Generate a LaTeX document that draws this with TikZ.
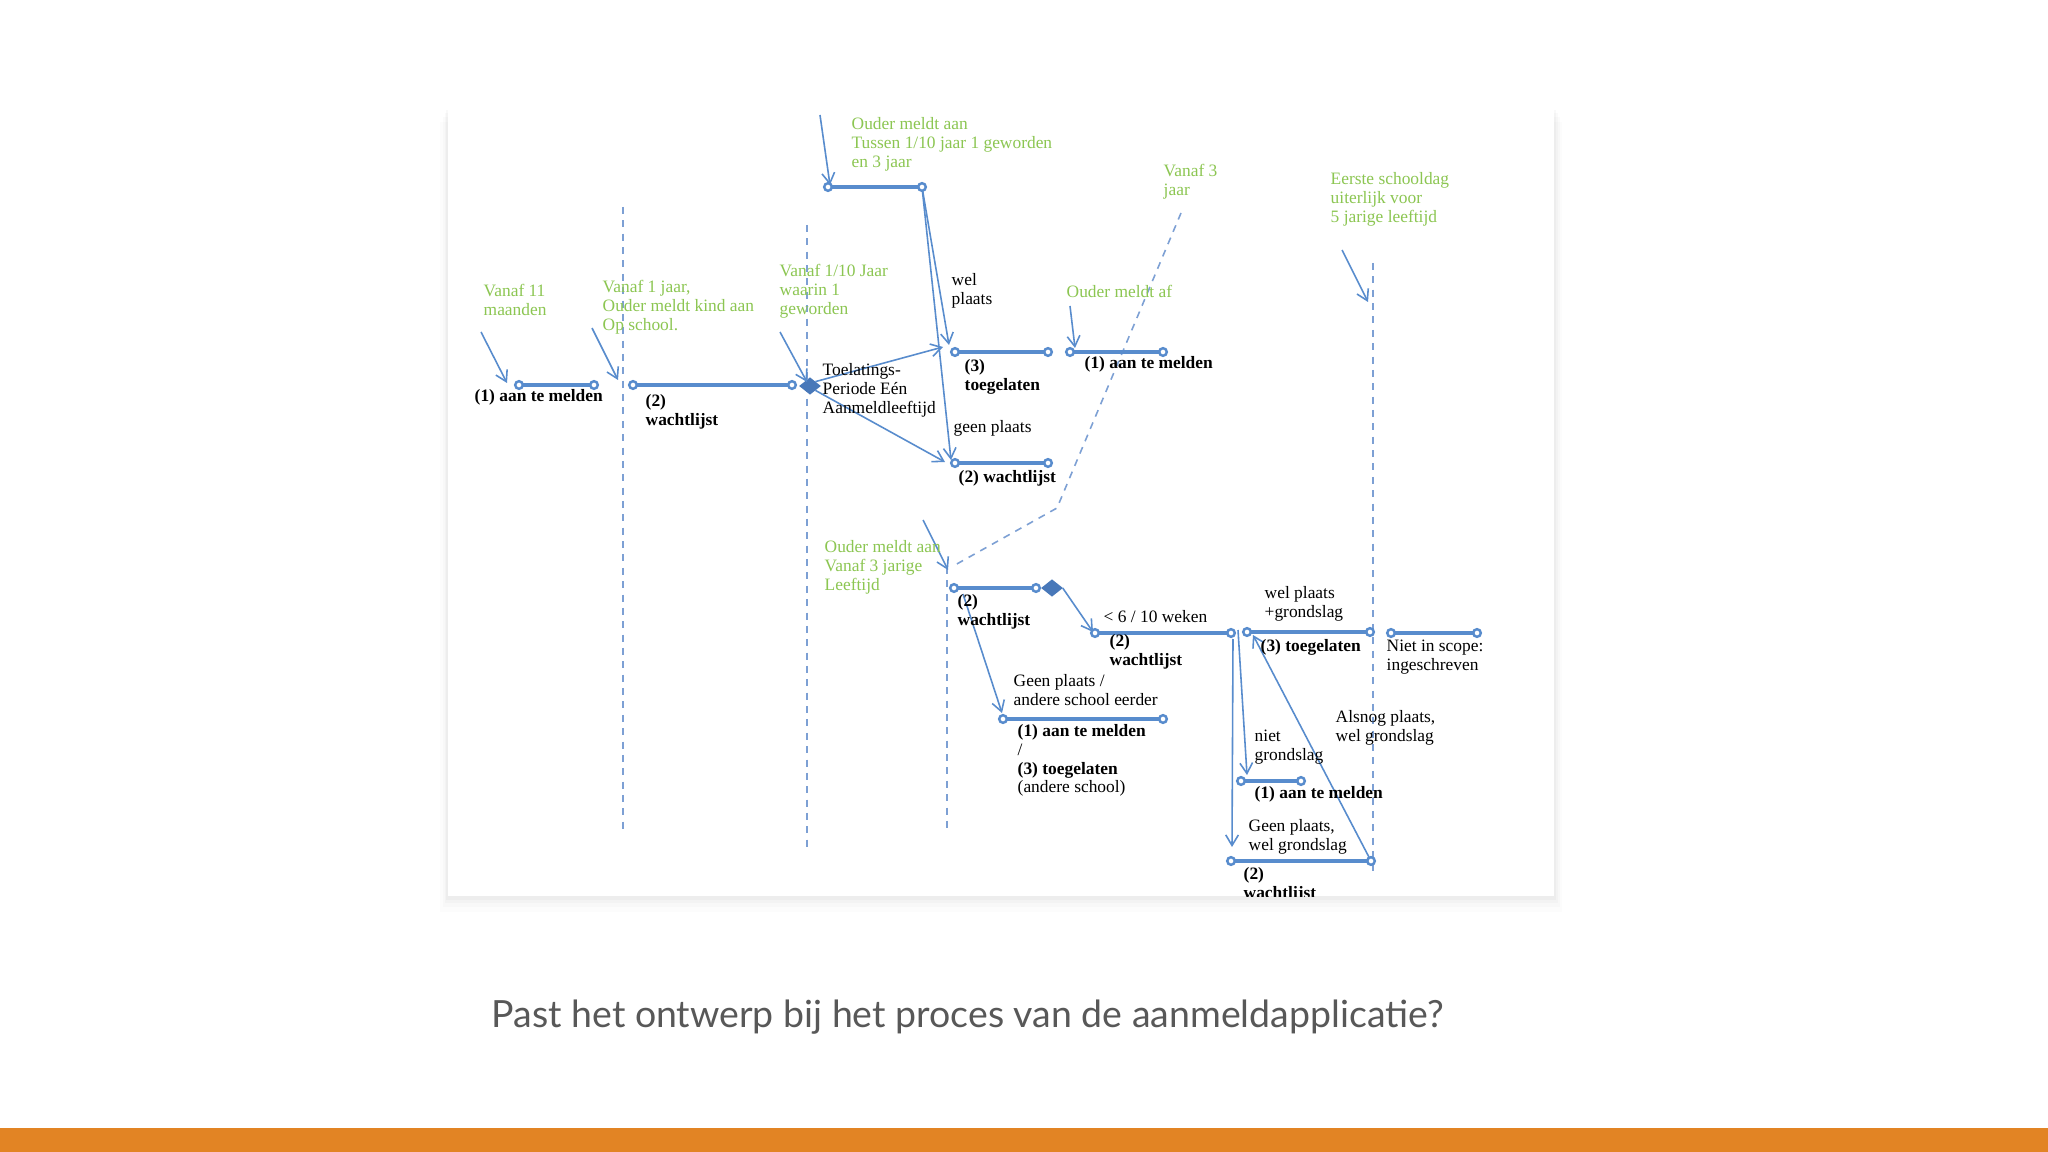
\documentclass[tikz,border=0pt]{standalone}
\usepackage{fontspec}
\setmainfont{Liberation Serif}
\newfontfamily\slidefont{Lato}
\usetikzlibrary{arrows.meta,shapes.geometric}
\definecolor{lineblue}{RGB}{88,140,205}
\definecolor{dashblue}{RGB}{125,160,212}
\definecolor{diamondblue}{RGB}{72,120,185}
\definecolor{notegreen}{RGB}{140,198,82}
\definecolor{barorange}{RGB}{226,132,36}
\definecolor{captiongray}{RGB}{88,88,88}
\tikzset{
  seg/.style={draw=lineblue, line width=0.9pt},
  endpt/.style={draw=lineblue, fill=white, line width=0.7pt},
  flow/.style={draw=lineblue, line width=0.45pt, -{Straight Barb[length=3pt,width=3.6pt]}},
  border/.style={draw=dashblue, line width=0.45pt, dash pattern=on 2pt off 1.8pt},
  gate/.style={diamond, fill=diamondblue, draw=diamondblue, inner sep=0pt, minimum width=0.2cm, minimum height=0.16cm},
  note/.style={text=notegreen, font=\fontsize{4.95}{5.3}\selectfont, align=left, inner sep=0pt, anchor=base west},
  lbl/.style={text=black, font=\fontsize{4.95}{5.3}\selectfont, align=left, inner sep=0pt, anchor=base west},
  state/.style={lbl, font=\fontsize{4.95}{5.3}\selectfont\bfseries}
}
\begin{document}
\begin{tikzpicture}[x=0.01cm, y=-0.01cm]
\useasboundingbox (0,0) rectangle (2048,1152);
\fill[white] (0,0) rectangle (2048,1152);
\fill[barorange] (0,1128) rectangle (2048,1152);
\foreach \d/\o in {16/0.012, 11/0.016, 7/0.02, 4/0.025}
  \fill[black, opacity=\o] (448-\d/2,106+\d) rectangle (1554+\d/2,896+\d);
\fill[white] (448,106) rectangle (1554,896);
\node[font=\slidefont\fontsize{10.65}{12}\selectfont, text=captiongray, anchor=base west, inner sep=0pt] (caption) at (491,1027) {Past het ontwerp bij het proces van de aanmeldapplicatie?};

\begin{scope}
\clip (448,106) rectangle (1554,896);
\draw[border] (623,207) -- (623,829);
\draw[border] (807,225) -- (807,849);
\draw[border] (947,567) -- (947,831);
\draw[border] (1373,263) -- (1373,872);
\draw[border] (1181,213) -- (1057,508) -- (955,565);

\coordinate (s1a) at (519,385); \coordinate (s1b) at (594,385);
\coordinate (s2a) at (633,385); \coordinate (s2b) at (792,385);
\coordinate (s3a) at (828,187); \coordinate (s3b) at (922,187);
\coordinate (s4a) at (955,352); \coordinate (s4b) at (1048,352);
\coordinate (s5a) at (955,463); \coordinate (s5b) at (1048,463);
\coordinate (s6a) at (1070,352); \coordinate (s6b) at (1163,352);
\coordinate (s7a) at (954,588); \coordinate (s7b) at (1036,588);
\coordinate (s8a) at (1095,633); \coordinate (s8b) at (1231,633);
\coordinate (s9a) at (1003,719); \coordinate (s9b) at (1163,719);
\coordinate (s10a) at (1247,632); \coordinate (s10b) at (1370,632);
\coordinate (s11a) at (1391,633); \coordinate (s11b) at (1477,633);
\coordinate (s12a) at (1241,781); \coordinate (s12b) at (1301,781);
\coordinate (s13a) at (1231,861); \coordinate (s13b) at (1371,861);
\foreach \i in {1,...,13}
  \draw[seg] (s\i a) -- (s\i b);
\node[gate] (gate1) at (810,386) {};
\node[gate] (gate2) at (1052,588) {};

\coordinate (t1) at (481,332); \coordinate (h1) at (507,383);
\coordinate (t2) at (592,328); \coordinate (h2) at (618,380);
\coordinate (t3) at (780,332); \coordinate (h3) at (807,382);
\coordinate (h4) at (943,347);
\coordinate (h5) at (945,462);
\coordinate (t6) at (820,115); \coordinate (h6) at (830,185);
\coordinate (h7) at (949,345);
\coordinate (h8) at (951,460);
\coordinate (t9) at (1070,306); \coordinate (h9) at (1075,348);
\coordinate (t10) at (1342,250); \coordinate (h10) at (1368,302);
\coordinate (t11) at (923,520); \coordinate (h11) at (948,570);
\coordinate (h12) at (1093,632);
\coordinate (h13) at (1002,713);
\coordinate (h14) at (1232,847);
\coordinate (h15) at (1247,775);
\coordinate (h16) at (1253,635);
\draw[flow] (t1) -- (h1);
\draw[flow] (t2) -- (h2);
\draw[flow] (t3) -- (h3);
\draw[flow] (gate1.north east) -- (h4);
\draw[flow] (gate1.south east) -- (h5);
\draw[flow] (t6) -- (h6);
\draw[flow] (s3b) -- (h7);
\draw[flow] (s3b) -- (h8);
\draw[flow] (t9) -- (h9);
\draw[flow] (t10) -- (h10);
\draw[flow] (t11) -- (h11);
\draw[flow] (gate2.east) -- (h12);
\draw[flow] ([shift={(9,6)}]s7a) -- (h13);
\draw[flow] ([shift={(2,6)}]s8b) -- (h14);
\draw[flow] ([shift={(7,-3)}]s8b) -- (h15);
\draw[flow] (s13b) -- (h16);
\foreach \i in {1,...,13}{
  \draw[endpt] (s\i a) circle (0.038cm);
  \draw[endpt] (s\i b) circle (0.038cm);
}

\node[note] (n11m) at (483,315.6) {Vanaf 11\\maanden};
\node[note] (n1j) at (602,330.2) {Vanaf 1 jaar,\\Ouder meldt kind aan\\Op school.};
\node[note] (n110) at (779,314.2) {Vanaf 1/10 Jaar\\waarin 1\\geworden};
\node[note] (ntussen) at (851,167.2) {Ouder meldt aan\\Tussen 1/10 jaar 1 geworden\\en 3 jaar};
\node[note] (naf) at (1066,298) {Ouder meldt af};
\node[note] (n3j) at (1163,195.6) {Vanaf 3\\jaar};
\node[note] (neerste) at (1330,222.2) {Eerste schooldag\\uiterlijk voor\\5 jarige leeftijd};
\node[note] (nvanaf3) at (824,590.2) {Ouder meldt aan\\Vanaf 3 jarige\\Leeftijd};

\node[lbl] (ltoel) at (822,413.2) {Toelatings-\\Periode Eén\\Aanmeldleeftijd};
\node[lbl] (lwel) at (951,304.6) {wel\\plaats};
\node[lbl] (lgeen) at (953,433) {geen plaats};
\node[lbl] (landere) at (1013,705.6) {Geen plaats /\\andere school eerder};
\node[lbl] (lweken) at (1103,623) {< 6 / 10 weken};
\node[lbl] (lgrond) at (1264,617.6) {wel plaats\\+grondslag};
\node[lbl] (lscope) at (1386,670.6) {Niet in scope:\\ingeschreven};
\node[lbl] (lalsnog) at (1335,741.6) {Alsnog plaats,\\wel grondslag};
\node[lbl] (lniet) at (1254,760.6) {niet\\grondslag};
\node[lbl] (lgeenw) at (1248,850.6) {Geen plaats,\\wel grondslag};

\node[state] (st1) at (474,402) {(1) aan te melden};
\node[state] (st2) at (645,425.6) {(2)\\wachtlijst};
\node[state] (st3) at (964,390.6) {(3)\\toegelaten};
\node[state] (st4) at (958,483) {(2) wachtlijst};
\node[state] (st5) at (1084,369) {(1) aan te melden};
\node[state] (st6) at (957,625.6) {(2)\\wachtlijst};
\node[state] (st7) at (1109,665.6) {(2)\\wachtlijst};
\node[lbl] (st8) at (1017,792.8) {\textbf{(1) aan te melden}\\/\\\textbf{(3) toegelaten}\\(andere school)};
\node[state] (st9) at (1260,652) {(3) toegelaten};
\node[state] (st10) at (1254,798) {(1) aan te melden};
\node[state] (st11) at (1243,898.6) {(2)\\wachtlijst};
\end{scope}
\end{tikzpicture}
\end{document}
